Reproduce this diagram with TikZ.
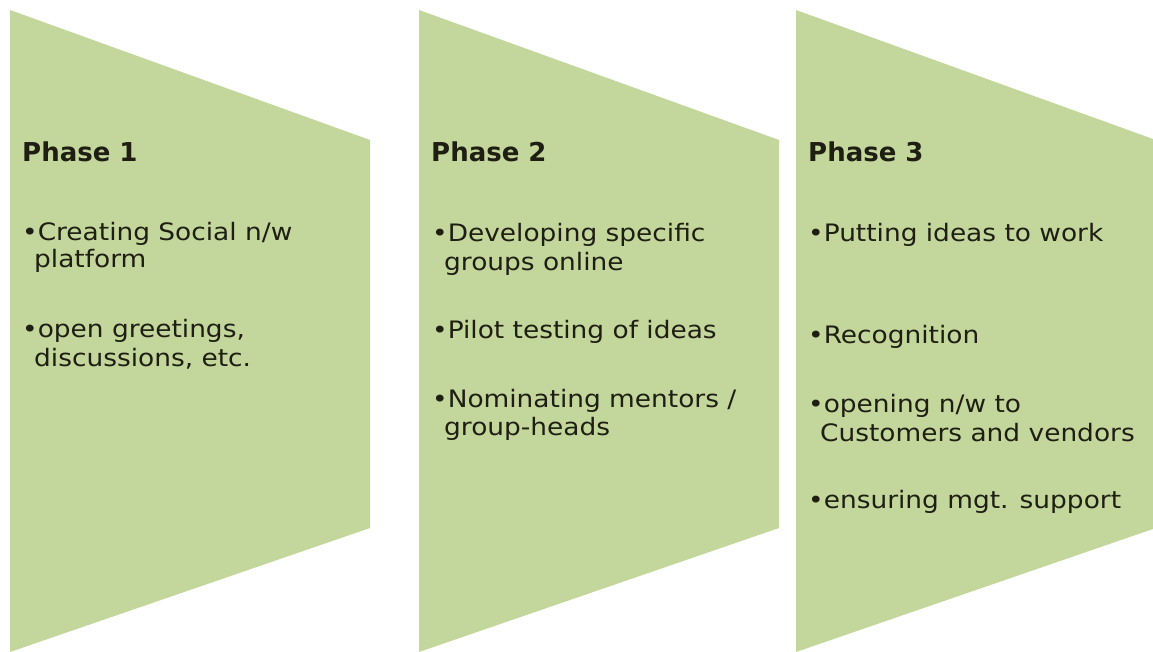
\documentclass[tikz,border=0pt]{standalone}
\usepackage{fontspec}
\newfontfamily\bodyfont{DejaVu Sans}[FakeStretch=1.1]
\newfontfamily\headfont{DejaVu Sans}
\definecolor{phasefill}{HTML}{C3D69B}
\definecolor{phasetext}{HTML}{1E1E12}
\begin{document}
\begin{tikzpicture}[x=1pt,y=-1pt,
  phase/.style={fill=phasefill,draw=none},
  head/.style={anchor=base west,inner sep=0pt,text=phasetext,
    font=\headfont\bfseries\fontsize{26}{30}\selectfont},
  item/.style={anchor=base west,inner sep=0pt,text=phasetext,
    font=\bodyfont\fontsize{24}{28}\selectfont}]
\useasboundingbox (0,0) rectangle (1153,652);

% chevron-like phase panels
\fill[phase] (10,10) -- (370,140) -- (370,528) -- (10,652) -- cycle;
\fill[phase] (419,10) -- (779,140) -- (779,528) -- (419,652) -- cycle;
\fill[phase] (796,10) -- (1153,139) -- (1153,529) -- (796,652) -- cycle;

% Phase 1
\node[head] (p1) at (22,162) {Phase 1};
\node[item] (p1a) at (22,241) {•Creating Social n/w};
\node[item] (p1b) at (34,268) {platform};
\node[item] (p1c) at (22,337) {•open greetings,};
\node[item] (p1d) at (34,366) {discussions, etc.};

% Phase 2
\node[head] (p2) at (431,162) {Phase 2};
\node[item] (p2a) at (432,242) {•Developing specific};
\node[item] (p2b) at (444,270) {groups online};
\node[item] (p2c) at (432,338) {•Pilot testing of ideas};
\node[item] (p2d) at (432,407) {•Nominating mentors /};
\node[item] (p2e) at (444,435) {group-heads};

% Phase 3
\node[head] (p3) at (808,162) {Phase 3};
\node[item] (p3a) at (808,242) {•Putting ideas to work};
\node[item] (p3b) at (808,343) {•Recognition};
\node[item] (p3c) at (808,412) {•opening n/w to};
\node[item] (p3d) at (820,441) {Customers and vendors};
\node[item] (p3e) at (808,508) {•ensuring mgt. support};
\end{tikzpicture}
\end{document}
